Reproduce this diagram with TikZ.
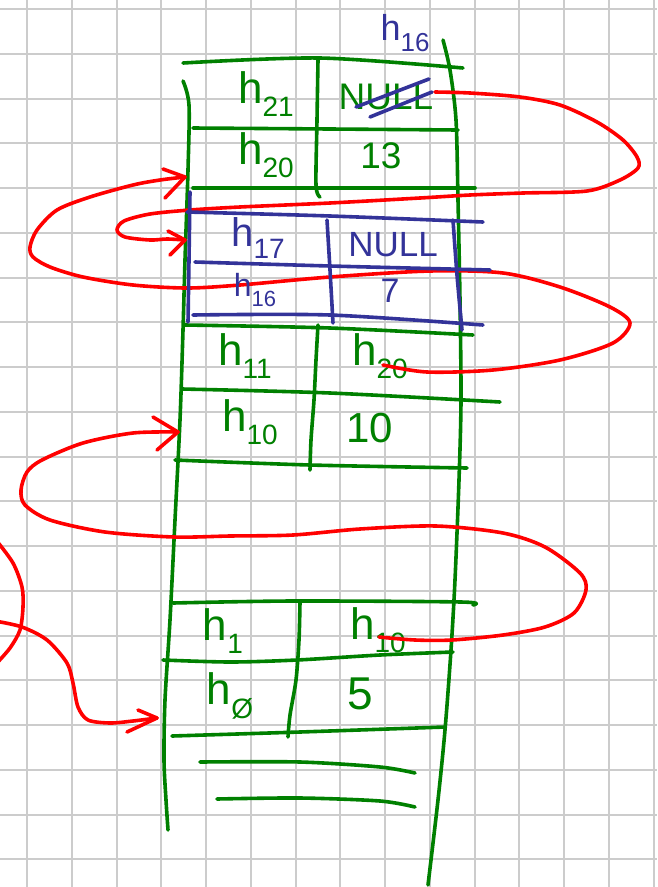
\documentclass[tikz,border=0pt]{standalone}
\usepackage{fontspec}
\setmainfont{Liberation Sans}
\definecolor{pengreen}{RGB}{0,128,0}
\definecolor{penblue}{RGB}{51,51,153}
\definecolor{penred}{RGB}{255,0,0}
\definecolor{gridgray}{RGB}{204,204,204}
% h with a lowered index
\newcommand\hsb[2][28]{h\raisebox{-0.3em}{\fontsize{#1}{#1}\selectfont #2}}
\newcommand\fs[1]{\fontsize{#1}{#1}\selectfont}
\tikzset{
  gridline/.style={draw=gridgray, line width=2pt},
  pen/.style={line width=3.6pt, line cap=round, line join=round},
  gpen/.style={pen, draw=pengreen},
  bpen/.style={pen, draw=penblue},
  rpen/.style={pen, draw=penred},
  gtxt/.style={text=pengreen, inner sep=0pt, font=\fs{44}},
  btxt/.style={text=penblue, inner sep=0pt, font=\fs{40}},
}
\begin{document}
\begin{tikzpicture}[x=1pt,y=-1pt]
\useasboundingbox (0,0) rectangle (657,887);
\fill[white] (0,0) rectangle (657,887);

% squared paper
\foreach \i in {0,...,14} \draw[gridline] (27.2+44.75*\i,0) -- ++(0,887);
\foreach \j in {0,...,19} \draw[gridline] (0,9+44.75*\j) -- ++(657,0);

% ---------------- green memory column ----------------
\draw[gpen] plot[smooth] coordinates {(183,81) (189,105) (188,170) (185,260) (183,330) (180,420) (175,520) (170,620) (165,700) (164,760) (166,800) (168,830)};
\draw[gpen] plot[smooth] coordinates {(443,40) (450,70) (456,120) (458,200) (460,300) (461,400) (459,480) (455,580) (451,650) (445,730) (438,800) (428,885)};

% block h21/h20
\draw[gpen] plot[smooth] coordinates {(183,63) (320,58) (463,68)};
\draw[gpen] plot[smooth] coordinates {(193,128) (330,129) (458,130)};
\draw[gpen] plot[smooth] coordinates {(193,188) (330,188) (475,188)};
\draw[gpen] plot[smooth] coordinates {(318,60) (317,120) (316,185) (320,197)};
\node[gtxt] (h21) at (266,94) {\hsb{21}};
\node[gtxt, font=\fs{37}] (null1) at (386,97) {NULL};
\node[gtxt] (h20a) at (266,155) {\hsb{20}};
\node[gtxt, font=\fs{37}] (n13) at (381,156) {13};

% block h11/h10
\draw[gpen] plot[smooth] coordinates {(185,325) (330,328) (473,335)};
\draw[gpen] plot[smooth] coordinates {(182,389) (330,393) (500,402)};
\draw[gpen] plot[smooth] coordinates {(175,460) (310,465) (467,468)};
\draw[gpen] plot[smooth] coordinates {(318,325) (316,360) (314,400) (311,440) (310,470)};
\node[gtxt] (h11) at (245,356) {\hsb{11}};
\node[gtxt] (h20b) at (380,356) {\hsb{20}};
\node[gtxt] (h10a) at (250,422) {\hsb{10}};
\node[gtxt, font=\fs{42}] (n10) at (370,428) {10};

% block h1/h0
\draw[gpen] plot[smooth] coordinates {(173,603) (293,601) (461,602) (473,605)};
\draw[gpen] plot[smooth] coordinates {(163,660) (230,662) (297,660) (380,655) (453,652)};
\draw[gpen] plot[smooth] coordinates {(172,736) (300,732) (445,727)};
\draw[gpen] plot[smooth] coordinates {(300,602) (299,640) (296,680) (290,715) (288,737)};
\draw[gpen] plot[smooth] coordinates {(200,762) (300,762) (380,767) (415,773)};
\draw[gpen] plot[smooth] coordinates {(217,799) (300,798) (380,801) (415,807)};
\node[gtxt] (h1) at (223,631) {\hsb{1}};
\node[gtxt] (h10b) at (378,630) {\hsb{10}};
\node[gtxt] (h0) at (230,696) {\hsb{Ø}};
\node[gtxt, font=\fs{46}] (n5) at (360,694) {5};

% ---------------- red next pointers ----------------
\coordinate (startA) at (435,92);
\coordinate (tipA) at (185,240);
\coordinate (startB) at (383,365);
\coordinate (tipB) at (185,177);
\coordinate (startC) at (379,637);
\coordinate (tipC) at (178,432);
\coordinate (startE) at (-5,621);
\coordinate (tipE) at (157,718);

\draw[rpen] plot[smooth] coordinates {(startA) (470,93) (520,97) (560,105) (597,122) (623,140) (637,157) (638,168) (620,180) (587,191) (523,193) (470,195) (420,198) (330,203) (240,207) (190,210) (150,214) (124,221) (117,230) (125,237) (150,240) (167,239) (tipA)};
\draw[rpen] (tipA) ++(-17,-9) -- (tipA) -- ++(-15,15);

\draw[rpen] plot[smooth] coordinates {(startB) (427,372) (493,370) (560,360) (613,343) (630,323) (610,307) (560,287) (503,273) (430,271) (330,277) (240,285) (187,288) (133,285) (83,277) (50,267) (33,257) (30,247) (37,230) (57,210) (90,197) (133,185) (160,180) (tipB)};
\draw[rpen] (tipB) ++(-22,-8) -- (tipB) -- ++(-20,21);

\draw[rpen] plot[smooth] coordinates {(startC) (415,640) (452,640) (503,635) (545,627) (574,613) (586,590) (580,573) (545,547) (503,533) (436,526) (360,529) (293,535) (230,536) (174,537) (105,532) (50,520) (25,505) (21,490) (27,472) (42,460) (83,443) (133,433) (tipC)};
\draw[rpen] (tipC) ++(-25,-15) -- (tipC) -- ++(-21,18);

\draw[rpen] plot[smooth] coordinates {(-4,540) (13,563) (22,587) (23,607) (20,630) (10,648) (-4,664)};

\draw[rpen] plot[smooth] coordinates {(startE) (22,627) (47,640) (67,663) (73,683) (78,707) (88,720) (110,723) (133,721) (tipE)};
\draw[rpen] (tipE) ++(-19,-8) -- (tipE) -- ++(-30,14);

% ---------------- blue inserted block ----------------
\draw[bpen] (356,107) -- (429,79);
\draw[bpen] (370,117) -- (432,92);
\node[btxt, font=\fs{36}] (h16top) at (405,33) {\hsb[26]{16}};

\draw[bpen] plot[smooth] coordinates {(187,212) (330,216) (483,222)};
\draw[bpen] plot[smooth] coordinates {(195,262) (330,266) (490,270)};
\draw[bpen] plot[smooth] coordinates {(193,315) (330,315) (483,325)};
\draw[bpen] plot[smooth] coordinates {(190,192) (189,260) (188,322)};
\draw[bpen] plot[smooth] coordinates {(453,220) (457,275) (462,330)};
\draw[bpen] plot[smooth] coordinates {(327,220) (330,270) (333,323)};
\node[btxt] (h17) at (258,238) {\hsb{17}};
\node[btxt, font=\fs{35}] (null2) at (393,245) {NULL};
\node[btxt, font=\fs{32}] (h16) at (255,290) {\hsb[22]{16}};
\node[btxt, font=\fs{34}] (n7) at (390,291) {7};
\end{tikzpicture}
\end{document}
